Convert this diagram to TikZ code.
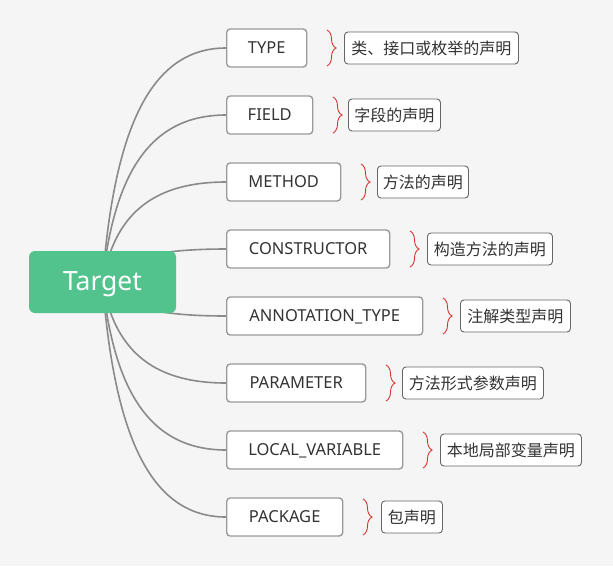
\documentclass[tikz,border=0pt]{standalone}
\usepackage{fontspec}
\setmainfont{Noto Sans}
\newfontfamily\cjk{Noto Sans CJK SC}
\usetikzlibrary{decorations.pathreplacing,backgrounds}
\definecolor{bgc}{HTML}{F5F5F5}
\definecolor{greenc}{HTML}{52C38D}
\definecolor{linec}{HTML}{8A8A8A}
\definecolor{boxc}{HTML}{9A9A9A}
\definecolor{descc}{HTML}{666666}
\definecolor{txtc}{HTML}{333333}
\definecolor{bracec}{HTML}{D9342F}
\tikzset{
  rootbox/.style={fill=greenc, draw=none, rounded corners=6pt, text=white,
    minimum width=147pt, minimum height=62pt, inner sep=0pt,
    text height=17pt, text depth=0pt,
    font=\fontsize{26.5}{30}\selectfont},
  childbox/.style={fill=white, draw=boxc, line width=1.4pt, rounded corners=3.5pt,
    minimum height=38pt, inner sep=0pt, text=txtc, anchor=west,
    text height=11pt, text depth=0pt,
    font=\fontsize{16.5}{19}\selectfont},
  descbox/.style={fill=white, draw=descc, line width=0.9pt, rounded corners=3.5pt,
    minimum height=32pt, inner sep=0pt, text=txtc, anchor=west,
    font=\cjk\fontsize{16}{19}\selectfont},
  conn/.style={draw=linec, line width=1.6pt},
  bracemark/.style={draw=bracec, line width=0.9pt,
    decorate, decoration={brace, amplitude=9pt}},
}
\begin{document}
\begin{tikzpicture}[x=1pt,y=-1pt]
\begin{pgfonlayer}{background}
\fill[bgc] (0,0) rectangle (613,566);
\end{pgfonlayer}
\useasboundingbox (0,0) rectangle (613,566);
\node[rootbox] (t) at (102.5,282) {Target};
\foreach \i/\y/\r/\lab/\dl/\dr/\desc in {
  1/48/306/TYPE/344/518/类、接口或枚举的声明,
  2/115/312/FIELD/348/440/字段的声明,
  3/182/340/METHOD/377/468/方法的声明,
  4/249/389/CONSTRUCTOR/427/552/构造方法的声明,
  5/316/422/ANNOTATION\_TYPE/460/570/注解类型声明,
  6/383/365/PARAMETER/402/543/方法形式参数声明,
  7/450/402/LOCAL\_VARIABLE/440/581/本地局部变量声明,
  8/517/342/PACKAGE/381/442/包声明}
{
  \pgfmathsetmacro{\w}{\r-226}
  \pgfmathsetmacro{\dw}{\dr-\dl}
  \pgfmathsetmacro{\bx}{\r+21}
  \pgfmathsetmacro{\cy}{282+0.65*(\y-282)}
  \node[childbox, minimum width=\w pt] (c\i) at (226,\y) {\lab};
  \node[descbox, minimum width=\dw pt] (d\i) at (\dl,\y) {\desc};
  \coordinate (bt\i) at (\bx,\y-18);
  \coordinate (bb\i) at (\bx,\y+18);
  \draw[bracemark] (bt\i) -- (bb\i);
  \begin{pgfonlayer}{background}
  \draw[conn] (t.center) .. controls (114,\cy) and (150,\y) .. (c\i.west);
  \end{pgfonlayer}
}
\end{tikzpicture}
\end{document}
